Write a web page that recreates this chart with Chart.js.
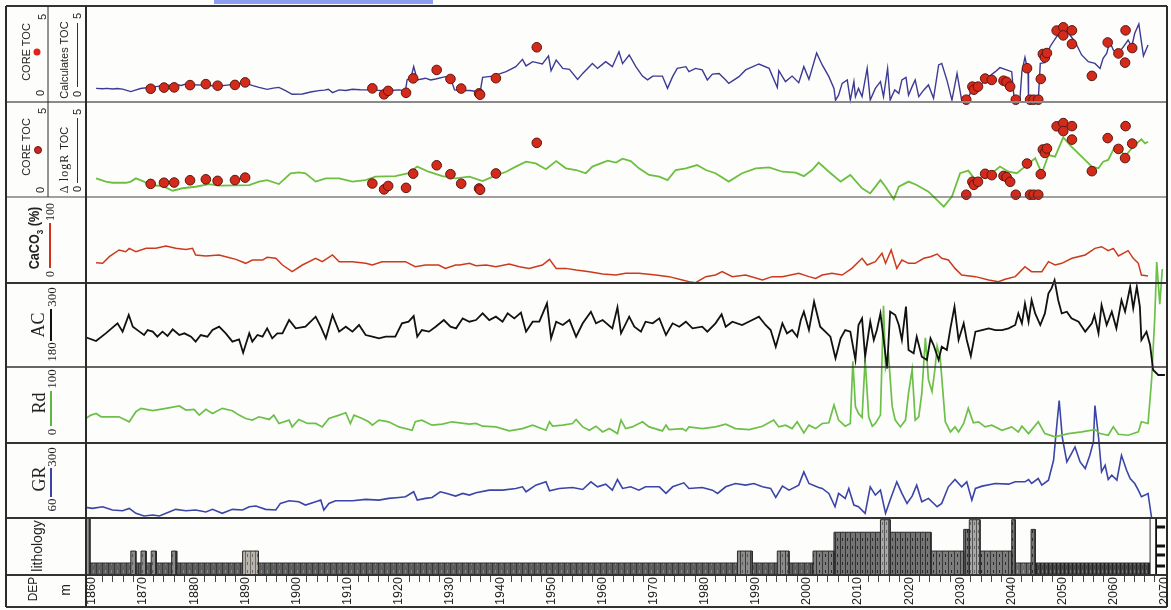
<!DOCTYPE html>
<html>
<head>
<meta charset="utf-8">
<script src="https://cdn.jsdelivr.net/npm/chart.js@4.4.0/dist/chart.umd.min.js"></script>
<style>
  body { margin: 0; background: #fdfdfb; }
  #wrap { position: relative; width: 1171px; height: 610px; overflow: hidden; font-family: "Liberation Sans", Arial, sans-serif; color: #222; }
  #logChart { position: absolute; left: 0; top: 0; }
  .rot { position: absolute; transform: translate(-50%, -50%) rotate(-90deg); white-space: nowrap; line-height: 1; }
  .serif { font-family: "Liberation Serif", "Times New Roman", serif; }
  .vline { position: absolute; }
  .dot { position: absolute; border-radius: 50%; transform: translate(-50%, -50%); }
</style>
</head>
<body>
<div id="wrap">
  <canvas id="logChart" width="1171" height="610"></canvas>
  <div style="position:absolute;left:214px;top:0;width:219px;height:4px;background:#8d9df2;"></div>

  <!-- track 1 -->
  <div class="rot" style="left:26px;top:52px;font-size:11px;">CORE TOC</div>
  <div class="dot" style="left:37px;top:52px;width:7px;height:7px;background:#e3231b;"></div>
  <div class="rot" style="left:42px;top:17px;font-size:11px;">5</div>
  <div class="rot" style="left:40px;top:93px;font-size:11px;">0</div>
  <div class="rot" style="left:64px;top:60px;font-size:11px;">Calculates TOC</div>
  <div class="rot" style="left:77px;top:16px;font-size:11px;">5</div>
  <div class="rot" style="left:77px;top:94px;font-size:11px;">0</div>
  <div class="vline" style="left:76.5px;top:23px;width:1px;height:64px;background:#333;"></div>

  <!-- track 2 -->
  <div class="rot" style="left:26px;top:147px;font-size:11px;">CORE TOC</div>
  <div class="dot" style="left:38px;top:150px;width:8px;height:8px;background:#c9281c;border:1px solid #6b1a12;box-sizing:border-box;"></div>
  <div class="rot" style="left:42px;top:111px;font-size:11px;">5</div>
  <div class="rot" style="left:40px;top:190px;font-size:11px;">0</div>
  <div class="rot" style="left:64px;top:160px;font-size:11px;"><span class="serif" style="font-size:12px;letter-spacing:1px;">Δ logR </span>TOC</div>
  <div class="rot" style="left:77px;top:112px;font-size:11px;">5</div>
  <div class="rot" style="left:77px;top:189px;font-size:11px;">0</div>
  <div class="vline" style="left:76.5px;top:118px;width:1px;height:65px;background:#333;"></div>

  <!-- track 3 -->
  <div class="rot" style="left:36px;top:238px;font-size:14px;font-weight:bold;transform:translate(-50%,-50%) rotate(-90deg) scaleX(0.9);">CaCO<sub style="font-size:9px;">3</sub> (%)</div>
  <div class="rot serif" style="left:50px;top:212px;font-size:12px;">100</div>
  <div class="rot serif" style="left:50px;top:274px;font-size:12px;">0</div>
  <div class="vline" style="left:49px;top:223px;width:2px;height:45px;background:#d0321e;"></div>

  <!-- track 4 -->
  <div class="rot serif" style="left:38px;top:325px;font-size:18px;">AC</div>
  <div class="rot serif" style="left:51px;top:297px;font-size:13px;">300</div>
  <div class="rot serif" style="left:51px;top:352px;font-size:13px;">180</div>
  <div class="vline" style="left:50px;top:309px;width:2px;height:32px;background:#111;"></div>

  <!-- track 5 -->
  <div class="rot serif" style="left:39px;top:403px;font-size:18px;">Rd</div>
  <div class="rot serif" style="left:51px;top:379px;font-size:13px;">100</div>
  <div class="rot serif" style="left:51px;top:432px;font-size:13px;">0</div>
  <div class="vline" style="left:50px;top:391px;width:2px;height:35px;background:#5cb840;"></div>

  <!-- track 6 -->
  <div class="rot serif" style="left:39px;top:479px;font-size:18px;">GR</div>
  <div class="rot serif" style="left:51px;top:457px;font-size:13px;">300</div>
  <div class="rot serif" style="left:51px;top:505px;font-size:13px;">60</div>
  <div class="vline" style="left:50px;top:468px;width:2px;height:29px;background:#3b45a8;"></div>

  <!-- lithology / depth -->
  <div class="rot" style="left:37px;top:546px;font-size:14px;">lithology</div>
  <div class="rot" style="left:33px;top:589px;font-size:12px;">DEP</div>
  <div class="rot" style="left:65px;top:590px;font-size:14px;">m</div>
</div>

<script>
// depth range of the plot (m)
const X_MIN = 1858.83;
const X_MAX = 2070.16;

const depthLabels = [1860, 1870, 1880, 1890, 1900, 1910, 1920, 1930, 1940, 1950, 1960, 1970,
  1980, 1990, 2000, 2010, 2020, 2030, 2040, 2050, 2060, 2070];

// calculated TOC (%), [depth, value]
const tocCalc = [[1860.8,0.71],[1862,0.69],[1863,0.71],[1864,0.68],[1865,0.7],[1866,0.67],[1867.6,0.54],[1868.5,0.62],[1869.5,0.7],[1871.2,0.76],[1872.5,0.8],[1874,0.85],[1875.1,0.88],[1876.5,0.9],[1877.5,0.86],[1878.4,0.94],[1880,0.9],[1881.6,0.88],[1883,0.86],[1884.9,0.83],[1886.5,0.88],[1888.2,0.94],[1890.1,0.97],[1891.5,0.85],[1892.7,0.76],[1894.3,0.66],[1895.5,0.72],[1896.6,0.76],[1897.8,0.6],[1899.2,0.4],[1901.2,0.42],[1902.8,0.52],[1904.4,0.59],[1905.5,0.62],[1906.3,0.66],[1907.1,0.49],[1908.4,0.63],[1909.7,0.6],[1911,0.66],[1912.5,0.64],[1914.2,0.63],[1915.5,0.62],[1916.8,0.59],[1918.5,0.6],[1920.1,0.63],[1921.4,0.59],[1921.7,1.15],[1922.5,1.3],[1923,1.84],[1923.7,1.15],[1925.3,1.24],[1926.3,1.15],[1927.3,1.2],[1929.2,1.32],[1930.3,1.18],[1931,0.63],[1932,0.6],[1934,0.6],[1935.3,0.55],[1935.9,0.36],[1936.5,1.28],[1938.5,1.35],[1941.1,1.58],[1943,1.84],[1944.3,2.22],[1945,1.88],[1946.3,2.1],[1948.2,1.98],[1949.4,2.4],[1949.9,1.63],[1950.9,2.18],[1952.2,1.75],[1953.5,1.7],[1955.1,1.18],[1956.1,1.49],[1958,2.0],[1959,1.75],[1960.6,2.1],[1961.9,1.84],[1963.2,2.62],[1963.9,2.0],[1965.2,2.45],[1966.5,1.84],[1967.8,1.35],[1968.8,1.15],[1969.8,1.35],[1971.7,1.35],[1972.7,0.71],[1973.7,1.32],[1974.6,1.75],[1976.3,1.84],[1976.9,1.58],[1978.2,1.75],[1979.5,1.67],[1980.5,1.15],[1981.5,1.45],[1982.8,1.48],[1984.1,1.15],[1984.7,0.97],[1986.7,1.32],[1988,1.67],[1990.6,1.98],[1992.6,1.75],[1994.2,0.76],[1994.5,1.63],[1995.8,1.06],[1997.1,1.35],[1998.4,1.0],[1999.4,1.84],[2000.4,1.18],[2001.9,2.55],[2003,1.93],[2004.3,1.32],[2005.3,0.71],[2005.6,0.1],[2006.2,0.36],[2006.9,0.97],[2007.9,1.15],[2008.5,0.1],[2009.2,1.06],[2009.5,0.28],[2010.1,0.71],[2010.8,0.28],[2011.8,1.75],[2012.4,0.1],[2013.4,0.71],[2014.4,1.06],[2015,0.28],[2015.8,1.75],[2016.3,0.1],[2017.2,0.63],[2018,0.45],[2018.6,1.15],[2019.4,1.28],[2019.9,0.36],[2020.6,0.8],[2021.2,1.15],[2021.9,0.28],[2022.9,0.63],[2023.8,0.89],[2024.8,0.19],[2025.8,1.93],[2026.4,2.01],[2027.4,1.15],[2028.4,0.1],[2029.4,1.49],[2030.3,0.1],[2031.3,0.07],[2032.3,0.63],[2033,0.89],[2034.3,0.97],[2035.6,1.32],[2036.9,1.58],[2037.8,1.79],[2039.1,1.67],[2040.1,1.58],[2040.6,0.1],[2041.7,0.1],[2042.1,1.58],[2042.7,2.33],[2043.3,1.58],[2043.4,0.1],[2045.3,0.07],[2045.7,2.01],[2046.6,2.05],[2047.6,2.88],[2048.9,3.4],[2050.2,3.84],[2051.5,3.49],[2052.5,3.14],[2053.8,2.45],[2055.1,2.1],[2056.4,2.01],[2057.4,1.75],[2058,2.27],[2058.7,2.53],[2059.3,3.14],[2060,2.71],[2061,2.53],[2062,2.88],[2062.9,3.23],[2063.6,2.88],[2064.2,3.58],[2065,4.06],[2065.9,2.4],[2066.8,2.97]];

// core TOC samples (%), [depth, value]
const coreToc = [[1871.5,0.69],[1874.1,0.75],[1876.1,0.76],[1879.2,0.88],[1882.3,0.93],[1884.6,0.85],[1888.0,0.89],[1890.0,1.02],[1914.9,0.71],[1917.2,0.4],[1918.0,0.58],[1921.5,0.48],[1922.9,1.23],[1927.5,1.67],[1930.2,1.2],[1932.3,0.7],[1935.8,0.45],[1936.0,0.38],[1939.1,1.24],[1947.1,2.85],[2031.2,0.12],[2032.4,0.8],[2032.7,0.64],[2033.5,0.8],[2034.9,1.22],[2036.2,1.15],[2038.5,1.11],[2039.1,1.05],[2039.8,0.8],[2040.9,0.12],[2043.1,1.76],[2043.7,0.12],[2044.4,0.12],[2045.3,0.12],[2045.8,1.2],[2046.2,2.5],[2046.6,2.32],[2047.0,2.55],[2048.9,3.72],[2050.2,3.89],[2050.2,3.47],[2051.9,3.73],[2051.9,3.02],[2055.8,1.36],[2058.9,3.1],[2061.0,2.53],[2062.3,2.05],[2062.4,3.73],[2063.7,2.81]];

// delta logR TOC (%)
const dlogrToc = [[1860.8,0.98],[1862.7,0.81],[1864.0,0.75],[1866.7,0.75],[1867.6,0.81],[1868.6,0.98],[1870.2,0.81],[1871.2,0.63],[1873.8,0.58],[1875.8,0.33],[1877.7,0.46],[1880.3,0.54],[1882.9,0.68],[1884.9,0.6],[1888.2,0.61],[1890.8,0.63],[1892.7,0.81],[1894.3,0.89],[1896.6,0.68],[1898.9,1.25],[1900.5,1.3],[1901.8,1.25],[1903.8,0.81],[1905.8,0.98],[1908.4,0.98],[1911.0,0.81],[1913.6,0.89],[1915.5,1.07],[1919.4,1.1],[1922.0,1.25],[1923.7,1.6],[1925.9,1.33],[1928.6,1.1],[1931.2,0.98],[1933.9,1.07],[1936.5,0.84],[1938.5,1.07],[1941.1,1.33],[1943.0,1.6],[1945.0,1.86],[1946.9,1.77],[1948.9,1.46],[1950.9,1.89],[1952.8,1.51],[1954.8,1.42],[1956.7,1.25],[1958.0,1.6],[1960.0,1.81],[1961.0,1.91],[1962.6,1.81],[1963.9,2.02],[1965.5,1.89],[1967.1,1.51],[1969.1,1.16],[1971.1,1.07],[1972.7,0.89],[1974.3,1.42],[1976.3,1.51],[1978.5,1.68],[1980.2,1.42],[1982.1,1.25],[1984.7,0.81],[1987.3,1.25],[1990.0,1.51],[1992.6,1.56],[1995.2,1.33],[1997.8,1.28],[1999.4,1.1],[2001.0,1.42],[2002.3,1.81],[2004.3,1.33],[2006.6,0.81],[2008.5,1.16],[2010.8,0.46],[2012.4,0.19],[2014.4,0.89],[2015.4,0.54],[2017.0,-0.12],[2018.0,0.54],[2019.9,0.81],[2021.5,0.63],[2023.8,0.28],[2025.5,-0.16],[2026.8,-0.51],[2028.4,0.02],[2030.0,1.25],[2031.6,1.39],[2033.0,0.89],[2034.6,1.07],[2036.2,1.25],[2037.8,1.6],[2039.5,1.33],[2041.1,1.25],[2042.7,1.6],[2044.7,2.04],[2046.0,1.25],[2047.3,2.21],[2048.6,2.12],[2050.2,3.14],[2051.8,2.65],[2053.8,2.12],[2055.8,1.6],[2057.1,1.51],[2058.0,1.86],[2059.0,1.95],[2060.3,2.65],[2061.6,2.39],[2062.3,2.12],[2063.3,2.47],[2064.6,2.82],[2065.5,3.04],[2066.2,2.82],[2066.8,2.91]];

// CaCO3 (%)
const caco3 = [[1860.8,23.6],[1862.1,22.9],[1863.4,30.6],[1865.3,38.4],[1866.6,36.4],[1867.3,40.3],[1868.6,36.4],[1870.6,40.3],[1872.5,40.3],[1874.5,43],[1876.4,40.3],[1878.4,39.1],[1879.7,40.3],[1880.3,32.6],[1882.3,31.4],[1884.9,32.6],[1886.2,30.6],[1888.2,27.5],[1890.1,22.9],[1891.4,26.7],[1893.4,26.7],[1894.3,29.8],[1896.0,28.7],[1897.3,20.9],[1899.2,13.2],[1901.2,20.9],[1903.8,28.7],[1905.1,24.8],[1907.1,32.6],[1908.4,24.8],[1911.0,24.8],[1913.6,22.9],[1914.9,20.9],[1916.8,24.8],[1919.4,24.8],[1921.4,24.8],[1923.3,19],[1925.3,20.9],[1927.9,20.9],[1929.2,17],[1931.2,20.9],[1932.0,20.9],[1933.9,22.9],[1935.2,20.2],[1937.2,20.9],[1939.1,19],[1941.7,22.1],[1943.7,19],[1945.6,17],[1948.2,20.9],[1949.6,27.5],[1950.9,17],[1952.8,17],[1954.8,15.1],[1957.4,13.2],[1960.0,10.5],[1962.6,9.3],[1964.5,11.2],[1967.1,11.2],[1970.4,9.3],[1973.0,7.4],[1975.6,3.5],[1976.9,1.6],[1978.2,0.4],[1980.2,7.4],[1982.1,9.3],[1983.4,13.2],[1985.4,7.4],[1988.0,9.3],[1991.3,3.5],[1993.2,7.4],[1995.2,7.4],[1998.4,11.2],[2000.4,7.4],[2001.7,5.4],[2003.0,9.3],[2004.9,11.2],[2006.9,9.3],[2008.8,17],[2010.8,28.7],[2011.8,20.9],[2013.4,24.8],[2014.7,34.5],[2015.4,22.9],[2016.5,38.4],[2017.6,17],[2018.6,26.7],[2019.9,22.9],[2021.2,22.9],[2022.9,28.7],[2024.2,30.6],[2025.5,33.7],[2026.4,28.7],[2027.7,26.7],[2029.0,17],[2030.3,9.3],[2033.0,7.4],[2035.6,3.5],[2037.5,1.6],[2038.8,4.3],[2040.8,7.4],[2042.7,19],[2044.0,13.2],[2046.0,13.2],[2047.3,24.8],[2048.6,20.9],[2049.9,22.9],[2051.9,28.7],[2054.5,32.6],[2056.4,40.3],[2057.7,42.2],[2059.0,37.6],[2060.0,40.3],[2061.0,31.4],[2062.9,37.6],[2063.9,28.7],[2064.9,22.9],[2065.5,9.3],[2066.8,8.1]];

// AC (us/ft)
const acLog = [[1858.8,222.4],[1860.8,217.1],[1862.7,228.1],[1865.0,242.4],[1866.0,230.5],[1867.2,254.3],[1868.0,237.6],[1869.3,230.5],[1870.2,225.7],[1870.9,232.8],[1871.9,230.5],[1872.8,223.3],[1873.8,230.5],[1874.8,224.3],[1875.8,233.8],[1877.1,225.7],[1878.1,228.1],[1879.4,223.3],[1880.3,216.2],[1881.3,225.7],[1882.6,223.3],[1883.6,232.8],[1884.9,237.6],[1886.2,228.1],[1887.5,216.2],[1888.8,219.5],[1889.6,200.5],[1890.8,228.1],[1891.4,216.2],[1892.4,225.7],[1893.4,223.3],[1894.3,235.2],[1895.3,220.9],[1896.3,228.1],[1897.3,228.1],[1898.6,247.1],[1899.9,235.2],[1901.8,237.6],[1903.8,251.9],[1904.8,237.6],[1905.8,220.9],[1907.1,254.3],[1908.4,230.5],[1909.7,237.6],[1911.0,230.5],[1912.3,240],[1913.6,225.7],[1914.9,223.3],[1916.2,220.9],[1917.5,223.3],[1919.4,223.3],[1920.7,242.4],[1922.0,244.7],[1923.0,252.8],[1923.7,223.3],[1924.6,232.8],[1926.0,230.5],[1927.3,237.6],[1928.9,247.1],[1930.2,237.6],[1931.3,235.2],[1932.6,249.5],[1933.9,244.7],[1935.2,247.1],[1936.5,256.6],[1937.8,247.1],[1939.1,251.9],[1940.4,244.7],[1941.4,256.6],[1942.7,249.5],[1944.0,257.6],[1945.0,230.5],[1946.3,244.7],[1947.6,244.7],[1949.1,270.9],[1949.9,220.9],[1950.9,244.7],[1952.2,240],[1953.5,247.1],[1954.8,223.3],[1956.1,242.4],[1957.7,259],[1958.7,242.4],[1960.0,247.1],[1961.9,235.2],[1962.9,265.2],[1963.6,228.1],[1965.2,251.9],[1966.2,237.6],[1967.5,230.5],[1968.4,244.7],[1969.8,242.4],[1971.1,249.5],[1972.4,225.7],[1973.7,242.4],[1975.0,237.6],[1976.3,244.7],[1977.6,235.2],[1979.5,237.6],[1980.5,230.5],[1982.1,242.4],[1983.3,255.2],[1984.1,237.6],[1985.4,244.7],[1987.3,240],[1989.3,247.1],[1990.6,251.9],[1991.9,240],[1992.9,232.8],[1993.9,209],[1995.2,242.4],[1996.1,228.1],[1997.1,232.8],[1998.1,223.3],[1998.8,247.1],[1999.4,259],[2000.4,232.8],[2001.4,273.3],[2002.6,237.6],[2003.6,230.5],[2004.6,223.3],[2005.6,192.4],[2006.6,220.9],[2007.5,232.8],[2008.5,230.5],[2009.5,190],[2010.1,240],[2010.8,249.5],[2011.4,194.8],[2012.4,244.7],[2013.1,218.6],[2013.7,232.8],[2014.4,256.6],[2015.0,220.9],[2015.7,178.1],[2016.3,259],[2017.3,254.3],[2018.0,240],[2018.6,218.6],[2019.4,266.2],[2019.9,204.3],[2020.9,199.5],[2021.5,223.3],[2022.5,194.8],[2023.5,190],[2024.2,220.9],[2024.8,211.4],[2025.8,190],[2026.4,209],[2027.4,204.3],[2028.1,235.2],[2028.9,266.2],[2029.7,218.6],[2030.7,242.4],[2031.3,218.6],[2032.1,195.7],[2033.0,230.5],[2034.3,232.8],[2035.6,235.2],[2036.9,232.8],[2038.2,232.8],[2039.5,235.2],[2040.8,240],[2041.4,256.6],[2042.1,242.4],[2042.7,270.9],[2043.4,244.7],[2044.0,275.7],[2044.7,256.6],[2045.7,240],[2046.6,256.6],[2047.3,285.2],[2047.9,292.3],[2048.5,304.2],[2049.2,275.7],[2049.9,256.6],[2050.9,259],[2051.8,249.5],[2053.2,244.7],[2054.5,230.5],[2055.8,242.4],[2056.3,254.3],[2057.1,228.1],[2057.7,268.5],[2058.7,240],[2059.7,259],[2060.6,235.2],[2061.6,275.7],[2062.3,259],[2063.3,294.7],[2063.9,263.8],[2064.6,294.7],[2065.2,266.2],[2065.5,218.6],[2066.5,230.5],[2067.2,211.4],[2067.8,175.7],[2068.8,168.6],[2070.1,168.6]];

// Rd (ohm.m)
const rdLog = [[1858.8,32.3],[1859.8,36.7],[1860.8,38.9],[1861.8,34.5],[1865.3,34.5],[1867.3,27.9],[1868.6,41.2],[1869.6,45.6],[1871.9,42.5],[1874.5,45.6],[1877.1,48.7],[1878.4,43.4],[1880.0,44.3],[1881.0,36.7],[1882.3,44.3],[1883.6,38.9],[1885.5,45.6],[1887.5,42.5],[1888.8,36.7],[1890.1,32.3],[1891.4,30.1],[1892.7,34.5],[1894.7,31],[1895.6,36.7],[1896.6,25.7],[1898.6,30.1],[1899.2,21.2],[1900.5,31],[1902.2,25.7],[1903.8,25.7],[1905.1,21.2],[1906.4,32.3],[1908.4,36.7],[1909.7,39.8],[1910.6,25.7],[1911.3,36.7],[1912.9,32.3],[1914.2,27.9],[1914.9,23.5],[1916.2,30.1],[1918.1,27.9],[1920.1,21.2],[1922.7,16.8],[1923.3,27.9],[1924.6,30.1],[1926.6,23.5],[1928.6,24.8],[1930.5,27.9],[1932.0,26.6],[1933.9,24.8],[1935.2,25.7],[1936.5,22.1],[1939.1,21.2],[1941.7,15.9],[1944.3,19],[1946.3,23.5],[1948.9,16.8],[1949.6,27.9],[1950.2,22.1],[1952.2,23.5],[1954.1,25.7],[1954.8,31],[1956.1,21.2],[1957.4,16.8],[1958.7,22.1],[1960.0,14.6],[1961.3,19],[1962.9,12.4],[1963.6,30.1],[1964.5,19],[1965.8,21.2],[1967.8,27.9],[1969.1,21.2],[1971.7,15.9],[1972.4,23.5],[1973.0,17.7],[1975.6,19],[1976.3,15.9],[1976.9,21.2],[1979.5,19],[1982.1,21.2],[1984.1,24.8],[1986.0,19],[1988.7,17.7],[1991.3,22.1],[1993.5,30.1],[1994.5,21.2],[1995.8,23.5],[1997.1,19],[1998.1,27.9],[1999.4,13.3],[2000.4,23.5],[2001.7,19],[2003.0,25.7],[2004.3,26.6],[2005.3,50],[2006.2,30.1],[2007.5,22.1],[2008.5,25.7],[2009.0,107.5],[2009.5,47.8],[2010.1,38.9],[2010.8,33.6],[2011.4,109.7],[2012.1,34.5],[2012.8,22.1],[2013.4,25.7],[2014.4,36.7],[2015.0,180.5],[2015.4,98.7],[2016.0,114.2],[2016.7,47.8],[2017.3,30.1],[2018.3,21.2],[2019.3,30.1],[2019.9,65.5],[2020.6,96.5],[2021.2,30.1],[2021.9,34.5],[2022.5,65.5],[2023.2,138.5],[2023.8,83.2],[2024.5,67.7],[2025.1,98.7],[2025.5,127.4],[2026.1,112],[2027.1,27.9],[2028.1,14.6],[2029.0,21.2],[2029.7,14.6],[2030.7,25.7],[2031.6,45.6],[2032.6,26.6],[2033.6,27.9],[2034.9,21.2],[2036.2,23.5],[2038.2,16.8],[2040.1,21.2],[2041.4,14.6],[2042.1,22.1],[2043.4,12.4],[2045.3,27.9],[2046.6,12.4],[2048.6,8],[2051.2,12.4],[2053.8,14.6],[2056.4,17.7],[2057.4,12.4],[2059.0,10.2],[2060.0,21.2],[2061.0,11.5],[2062.9,10.2],[2064.9,14.6],[2065.5,27.9],[2066.8,25.7],[2067.5,83.2],[2068.1,162.8],[2068.5,238],[2069.1,182.7],[2069.6,229]];

// GR (API)
const grLog = [[1858.8,94],[1860.1,90.8],[1862.1,96.1],[1864.0,85.5],[1866.0,83.4],[1867.3,90.8],[1868.6,74.9],[1870.2,66.4],[1871.9,69.6],[1873.2,66.4],[1874.5,74.9],[1876.4,87.6],[1878.4,83.4],[1880.3,85.5],[1882.3,79.1],[1883.6,87.6],[1885.5,74.9],[1887.5,87.6],[1889.5,85.5],[1890.8,96.1],[1892.1,98.2],[1894.0,87.6],[1896.0,85.5],[1896.9,106.7],[1898.6,115.2],[1900.5,112],[1901.8,101.4],[1903.8,112],[1904.8,117.3],[1905.4,85.5],[1906.4,106.7],[1907.7,115.2],[1911.0,115.2],[1913.6,119.5],[1916.2,117.3],[1918.1,122.7],[1920.1,125.8],[1921.4,128],[1923.0,143.9],[1923.7,117.3],[1925.3,122.7],[1926.6,125.8],[1928.2,143.9],[1929.5,138.6],[1931.2,130.1],[1932.6,138.6],[1933.9,133.3],[1935.2,140.7],[1937.8,149.2],[1940.4,149.2],[1943.0,154.5],[1944.3,159.8],[1945.0,143.9],[1946.9,165.1],[1948.9,175.8],[1949.6,147.1],[1951.5,154.5],[1954.1,157.7],[1956.1,151.3],[1957.7,175.8],[1959.0,159.8],[1960.6,168.3],[1961.9,149.2],[1962.9,183.2],[1963.9,154.5],[1965.5,159.8],[1967.1,149.2],[1968.4,159.8],[1971.1,159.8],[1972.4,138.6],[1973.7,159.8],[1975.9,172.6],[1976.9,154.5],[1979.5,157.7],[1981.5,149.2],[1982.5,138.6],[1984.1,159.8],[1986.0,170.4],[1988.0,165.1],[1989.6,170.4],[1991.3,159.8],[1992.9,154.5],[1993.9,125.8],[1995.2,162],[1996.5,149.2],[1998.4,165.1],[1999.4,207.6],[2000.4,170.4],[2002.3,157.7],[2003.0,154.5],[2004.3,138.6],[2005.5,96.1],[2006.2,138.6],[2007.5,122.7],[2008.2,154.5],[2009.2,101.4],[2010.1,96.1],[2011.4,74.9],[2012.4,159.8],[2013.4,133.3],[2014.4,149.2],[2015.4,74.9],[2016.3,117.3],[2017.6,175.8],[2018.6,138.6],[2019.6,106.7],[2020.6,130.1],[2021.5,165.1],[2022.5,112],[2023.8,122.7],[2025.5,96.1],[2026.4,106.7],[2027.7,159.8],[2029.0,183.2],[2030.3,159.8],[2031.3,175.8],[2032.3,117.3],[2033.0,154.5],[2034.3,162],[2036.9,170.4],[2039.5,168.3],[2040.8,175.8],[2042.7,175.8],[2043.4,183.2],[2044.0,170.4],[2045.3,186.4],[2046.0,165.1],[2047.3,181.1],[2048.3,244.8],[2048.9,351],[2049.4,436],[2050.0,319.1],[2050.9,239.5],[2051.8,266],[2052.5,287.3],[2053.5,239.5],[2054.5,218.2],[2055.4,260.7],[2056.1,303.2],[2056.4,420],[2057.1,319.1],[2057.7,207.6],[2058.4,228.9],[2059.0,183.2],[2059.7,197],[2060.7,181.1],[2061.6,260.7],[2062.6,212.9],[2063.3,186.4],[2064.2,170.4],[2064.9,149.2],[2065.5,128],[2066.2,133.3],[2066.8,138.6],[2067.5,60]];

// lithology column: [kind, top depth, base depth, relative width]
const lithology = [
  ['base', 1858.83, 2001.2, 0.21],
  ['side', 1858.83, 1859.6, 1.0],
  ['bump', 1867.6, 1868.6, 0.42],
  ['bump', 1869.6, 1870.6, 0.42],
  ['bump', 1871.6, 1872.6, 0.42],
  ['bump', 1875.6, 1876.6, 0.42],
  ['sand', 1889.5, 1892.6, 0.42],
  ['bump', 1986.4, 1989.3, 0.42],
  ['bump', 1994.2, 1996.5, 0.42],
  ['mid', 2001.2, 2005.3, 0.42],
  ['tall', 2005.3, 2014.4, 0.75],
  ['light', 2014.4, 2016.3, 0.97],
  ['tall', 2016.3, 2024.3, 0.75],
  ['mid', 2024.3, 2030.7, 0.42],
  ['tall', 2030.7, 2031.8, 0.8],
  ['light', 2031.8, 2033.9, 0.97],
  ['mid', 2033.9, 2040.1, 0.42],
  ['tall', 2040.1, 2040.8, 0.97],
  ['base2', 2040.8, 2043.9, 0.21],
  ['tall', 2043.9, 2044.7, 0.8],
  ['dark', 2044.7, 2067.2, 0.21],
  ['white', 2067.2, 2068.4, 1.0]
];
const legendBars = [0.84, 0.51, 0.35, 0.16];

// track layout (pixel box of each log and its scale range)
const AREA_TOP = 6, AREA_BOTTOM = 575;
const tracks = [
  { id: 'yToc', top: 6, bottom: 102, lo: 0, hi: 5 },
  { id: 'yDlr', top: 102, bottom: 197, lo: 0, hi: 5 },
  { id: 'yCaco', top: 197, bottom: 283, lo: 0, hi: 100 },
  { id: 'yAc', top: 283, bottom: 367, lo: 180, hi: 300 },
  { id: 'yRd', top: 367, bottom: 443, lo: 0, hi: 100 },
  { id: 'yGr', top: 443, bottom: 518, lo: 60, hi: 300 },
  { id: 'yLith', top: 518, bottom: 575, lo: 0, hi: 1 }
];

function makePattern(bg, stroke, step, dash) {
  const c = document.createElement('canvas');
  c.width = step; c.height = 8;
  const g = c.getContext('2d');
  g.fillStyle = bg; g.fillRect(0, 0, step, 8);
  g.fillStyle = stroke; g.fillRect(0, 0, 1, 8);
  if (dash) { g.fillStyle = dash; g.fillRect(Math.floor(step / 2), 2, 1, 3); }
  return g.createPattern(c, 'repeat');
}

const lithFill = {
  base: makePattern('#5d5d5d', '#3a3a3a', 6, '#8a8a8a'),
  base2: makePattern('#6b6b6b', '#3a3a3a', 6, '#999'),
  side: makePattern('#9a9a9a', '#777', 8, null),
  bump: makePattern('#8c8c8c', '#3c3c3c', 5, '#555'),
  sand: makePattern('#b9b4ac', '#6d6a66', 5, '#6d6a66'),
  mid: makePattern('#7d7d7d', '#3a3a3a', 6, '#2a2a2a'),
  tall: makePattern('#747474', '#333', 5, '#2a2a2a'),
  light: makePattern('#aaaaaa', '#555', 4, '#666'),
  dark: makePattern('#454545', '#222', 4, '#777'),
  white: '#fdfdfb'
};

function toPoints(pairs) {
  return pairs.map(p => ({ x: p[0], y: p[1] }));
}

function curve(pairs, yAxisID, color, width) {
  return { type: 'line', data: toPoints(pairs), yAxisID: yAxisID, borderColor: color,
    borderWidth: width, pointRadius: 0, tension: 0, fill: false, order: 2 };
}

function corePoints(yAxisID) {
  return { type: 'scatter', data: toPoints(coreToc), yAxisID: yAxisID, pointRadius: 4.8,
    pointBackgroundColor: '#d42a1c', pointBorderColor: '#5b1810', pointBorderWidth: 1, order: 0 };
}

let datasets = [
  curve(tocCalc, 'yToc', '#3d3a94', 1.4),
  corePoints('yToc'),
  curve(dlogrToc, 'yDlr', '#6cbf3f', 1.8),
  corePoints('yDlr'),
  curve(caco3, 'yCaco', '#cc3a1e', 1.5),
  curve(acLog, 'yAc', '#111111', 1.8),
  curve(rdLog, 'yRd', '#6cc04a', 1.7),
  curve(grLog, 'yGr', '#3b45a8', 1.6)
];

lithology.forEach(b => {
  const kind = b[0], s = b[1], e = b[2], h = b[3];
  datasets.push({
    type: 'line',
    data: [{ x: s, y: 0 }, { x: s, y: h }, { x: e, y: h }, { x: e, y: 0 }],
    yAxisID: 'yLith', fill: 'origin', backgroundColor: lithFill[kind],
    borderColor: '#2a2a2a', borderWidth: 1, pointRadius: 0, tension: 0,
    order: (kind === 'base' || kind === 'dark' || kind === 'base2') ? 20 : 10
  });
});

// lithology legend strip on the right edge
datasets.push({ type: 'line', data: [{ x: 2068.4, y: 0 }, { x: 2068.4, y: 1 }], yAxisID: 'yLith',
  borderColor: '#111', borderWidth: 1.5, pointRadius: 0, order: 1 });
legendBars.forEach(h => {
  datasets.push({ type: 'line', data: [{ x: 2068.4, y: h }, { x: X_MAX, y: h }], yAxisID: 'yLith',
    borderColor: '#111', borderWidth: 3, pointRadius: 0, order: 1 });
});

const scales = {
  x: { type: 'linear', min: X_MIN, max: X_MAX, display: false, bounds: 'data' }
};
tracks.forEach(t => {
  const r = (t.hi - t.lo) / (t.bottom - t.top);
  scales[t.id] = {
    type: 'linear', position: 'left', display: false, bounds: 'data',
    min: t.lo - (AREA_BOTTOM - t.bottom) * r,
    max: t.hi + (t.top - AREA_TOP) * r
  };
});

const framePlugin = {
  id: 'frame',
  beforeDraw(chart) {
    const ctx = chart.ctx;
    ctx.save();
    ctx.fillStyle = '#fdfdfb';
    ctx.fillRect(0, 0, chart.width, chart.height);
    ctx.restore();
  },
  afterDraw(chart) {
    const ctx = chart.ctx;
    const xs = chart.scales.x;
    const left = 6, right = 1167;
    ctx.save();

    // horizontal borders between tracks
    const edges = [[6, 2, '#333'], [102, 2, '#8a8a8a'], [197, 1.2, '#444'], [283, 2, '#333'],
      [367, 1.5, '#333'], [443, 2, '#333'], [518, 2, '#333'], [575, 2, '#333'], [607, 2, '#333']];
    edges.forEach(e => {
      ctx.strokeStyle = e[2]; ctx.lineWidth = e[1];
      ctx.beginPath(); ctx.moveTo(left, e[0]); ctx.lineTo(right, e[0]); ctx.stroke();
    });

    // vertical borders
    const verts = [[6, 6, 607, 2], [48, 6, 197, 1], [86, 6, 607, 2], [1167, 6, 607, 2]];
    verts.forEach(v => {
      ctx.strokeStyle = '#2a2a2a'; ctx.lineWidth = v[3];
      ctx.beginPath(); ctx.moveTo(v[0], v[1]); ctx.lineTo(v[0], v[2]); ctx.stroke();
    });

    // depth ticks every 2 m
    ctx.strokeStyle = '#444'; ctx.lineWidth = 1;
    for (let d = 1862; d < 2070; d += 2) {
      if (d % 10 === 0) continue;
      const px = Math.round(xs.getPixelForValue(d)) + 0.5;
      ctx.beginPath(); ctx.moveTo(px, 576); ctx.lineTo(px, 582); ctx.stroke();
    }

    // depth labels, reading bottom to top
    ctx.fillStyle = '#222';
    ctx.font = '12.5px "Liberation Sans", Arial, sans-serif';
    ctx.textAlign = 'center';
    ctx.textBaseline = 'middle';
    depthLabels.forEach(d => {
      const px = xs.getPixelForValue(d);
      ctx.save();
      ctx.translate(px, 591);
      ctx.rotate(-Math.PI / 2);
      ctx.fillText(String(d), 0, 0);
      ctx.restore();
    });
    ctx.restore();
  }
};

new Chart(document.getElementById('logChart'), {
  type: 'line',
  data: { datasets: datasets },
  options: {
    responsive: false,
    animation: false,
    devicePixelRatio: 1,
    events: [],
    layout: { padding: { left: 86, right: 4, top: 6, bottom: 35 } },
    plugins: { legend: { display: false }, tooltip: { enabled: false } },
    scales: scales
  },
  plugins: [framePlugin]
});
</script>
</body>
</html>
